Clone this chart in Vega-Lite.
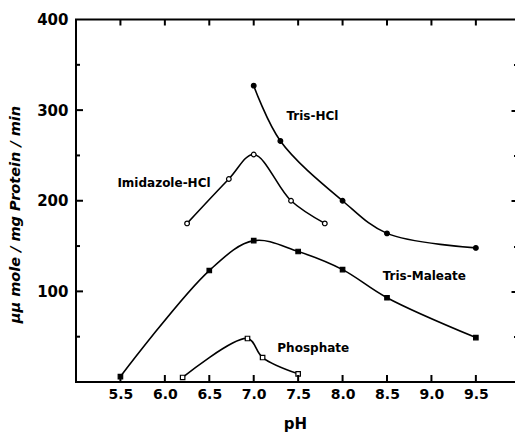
{
  "$schema": "https://vega.github.io/schema/vega-lite/v6.json",
  "width": 441,
  "height": 362.5,
  "autosize": "none",
  "padding": {"left": 76, "top": 19.5, "right": 0, "bottom": 50},
  "background": "white",
  "config": {
    "view": {"stroke": "black", "strokeWidth": 2},
    "axis": {
      "domain": false, "labelColor": "black", "titleColor": "black",
      "grid": false, "labelFont": "DejaVu Sans", "titleFont": "DejaVu Sans", "labelFontWeight": "bold",
      "titleFontWeight": "bold"
    }
  },
  "data": {
    "values": [
      {"series": "Tris-HCl", "pH": 7.0, "value": 327},
      {"series": "Tris-HCl", "pH": 7.3, "value": 266},
      {"series": "Tris-HCl", "pH": 8.0, "value": 200},
      {"series": "Tris-HCl", "pH": 8.5, "value": 164},
      {"series": "Tris-HCl", "pH": 9.5, "value": 148},
      {"series": "Imidazole-HCl", "pH": 6.25, "value": 175},
      {"series": "Imidazole-HCl", "pH": 6.72, "value": 224},
      {"series": "Imidazole-HCl", "pH": 7.0, "value": 251},
      {"series": "Imidazole-HCl", "pH": 7.42, "value": 200},
      {"series": "Imidazole-HCl", "pH": 7.8, "value": 175},
      {"series": "Tris-Maleate", "pH": 5.5, "value": 6},
      {"series": "Tris-Maleate", "pH": 6.5, "value": 123},
      {"series": "Tris-Maleate", "pH": 7.0, "value": 156},
      {"series": "Tris-Maleate", "pH": 7.5, "value": 144},
      {"series": "Tris-Maleate", "pH": 8.0, "value": 124},
      {"series": "Tris-Maleate", "pH": 8.5, "value": 93},
      {"series": "Tris-Maleate", "pH": 9.5, "value": 49},
      {"series": "Phosphate", "pH": 6.2, "value": 5},
      {"series": "Phosphate", "pH": 6.93, "value": 48},
      {"series": "Phosphate", "pH": 7.1, "value": 27},
      {"series": "Phosphate", "pH": 7.5, "value": 9}
    ]
  },
  "resolve": {"axis": {"x": "independent", "y": "independent"}},
  "layer": [
    {
      "mark": {"type": "line", "interpolate": "catmull-rom", "color": "black", "strokeWidth": 1.6},
      "encoding": {
        "x": {
          "field": "pH", "type": "quantitative",
          "scale": {"domain": [5, 9.963], "nice": false, "zero": false},
          "axis": {
            "orient": "bottom", "values": [5.5, 6, 6.5, 7, 7.5, 8, 8.5, 9, 9.5], "format": ".1f",
            "ticks": false, "labelFontSize": 14, "labelPadding": 5,
            "title": "pH", "titleFontSize": 15, "titleX": 219, "titleY": 46, "titleBaseline": "alphabetic"
          }
        },
        "y": {
          "field": "value", "type": "quantitative",
          "scale": {"domain": [0, 400], "nice": false},
          "axis": {
            "orient": "left", "values": [100, 200, 300, 400], "ticks": false,
            "labelFontSize": 15, "labelPadding": 8,
            "title": "μμ mole  / mg Protein / min", "titleFontSize": 14.5, "titleFontStyle": "italic",
            "titleX": -60.5, "titleY": 194.5, "titleBaseline": "middle", "titleAngle": -90
          }
        },
        "detail": {"field": "series"}
      }
    },
    {
      "transform": [{"filter": "datum.series === 'Tris-HCl' || datum.series === 'Imidazole-HCl'"}],
      "mark": {"type": "point", "shape": "circle", "size": 22, "stroke": "black", "strokeWidth": 1.2, "opacity": 1, "filled": false},
      "encoding": {
        "x": {"field": "pH", "type": "quantitative", "axis": null},
        "y": {
          "field": "value", "type": "quantitative",
          "axis": {"orient": "right", "values": [100, 200, 300], "offset": -6, "tickSize": 6, "tickColor": "black", "tickWidth": 2, "labels": false, "title": null}
        },
        "fill": {
          "field": "series", "type": "nominal",
          "scale": {"domain": ["Tris-HCl", "Imidazole-HCl", "Tris-Maleate", "Phosphate"], "range": ["black", "white", "black", "white"]},
          "legend": null
        }
      }
    },
    {
      "transform": [{"filter": "datum.series === 'Tris-Maleate' || datum.series === 'Phosphate'"}],
      "mark": {"type": "point", "shape": "square", "size": 20, "stroke": "black", "strokeWidth": 1.2, "opacity": 1, "filled": false},
      "encoding": {
        "x": {"field": "pH", "type": "quantitative", "axis": null},
        "y": {
          "field": "value", "type": "quantitative",
          "axis": {"orient": "right", "values": [50, 150, 250, 350], "offset": -3.5, "tickSize": 3.5, "tickColor": "black", "tickWidth": 2, "labels": false, "title": null}
        },
        "fill": {
          "field": "series", "type": "nominal",
          "scale": {"domain": ["Tris-HCl", "Imidazole-HCl", "Tris-Maleate", "Phosphate"], "range": ["black", "white", "black", "white"]},
          "legend": null
        }
      }
    },
    {
      "data": {
        "values": [
          {"label": "Tris-HCl", "pH": 7.66, "value": 293},
          {"label": "Imidazole-HCl", "pH": 5.99, "value": 220},
          {"label": "Tris-Maleate", "pH": 8.92, "value": 117},
          {"label": "Phosphate", "pH": 7.67, "value": 37}
        ]
      },
      "mark": {"type": "text", "font": "DejaVu Sans", "fontWeight": "bold", "fontSize": 12, "color": "black", "align": "center", "baseline": "middle"},
      "encoding": {
        "x": {"field": "pH", "type": "quantitative", "axis": null},
        "y": {"field": "value", "type": "quantitative", "axis": null},
        "text": {"field": "label"}
      }
    },
    {
      "data": {"values": [{"pH": 5.5}, {"pH": 6.0}, {"pH": 6.5}, {"pH": 7.0}, {"pH": 7.5}, {"pH": 8.0}, {"pH": 8.5}, {"pH": 9.0}, {"pH": 9.5}]},
      "mark": {"type": "tick", "orient": "vertical", "color": "black", "size": 7, "thickness": 2, "yOffset": -3.5, "opacity": 1},
      "encoding": {
        "x": {"field": "pH", "type": "quantitative", "axis": null},
        "y": {"datum": 0, "type": "quantitative", "axis": null}
      }
    },
    {
      "data": {"values": [{"pH": 5.5}, {"pH": 6.0}, {"pH": 6.5}, {"pH": 7.0}, {"pH": 7.5}, {"pH": 8.0}, {"pH": 8.5}, {"pH": 9.0}, {"pH": 9.5}]},
      "mark": {"type": "tick", "orient": "vertical", "color": "black", "size": 6, "thickness": 2, "yOffset": 3, "opacity": 1},
      "encoding": {
        "x": {"field": "pH", "type": "quantitative", "axis": null},
        "y": {"datum": 400, "type": "quantitative", "axis": null}
      }
    },
    {
      "data": {"values": [{"value": 100}, {"value": 200}, {"value": 300}]},
      "mark": {"type": "tick", "orient": "horizontal", "color": "black", "size": 7, "thickness": 2, "xOffset": 3.5, "opacity": 1},
      "encoding": {
        "x": {"datum": 5, "type": "quantitative", "axis": null},
        "y": {"field": "value", "type": "quantitative", "axis": null}
      }
    },
    {
      "data": {"values": [{"value": 50}, {"value": 150}, {"value": 250}, {"value": 350}]},
      "mark": {"type": "tick", "orient": "horizontal", "color": "black", "size": 4, "thickness": 2, "xOffset": 2, "opacity": 1},
      "encoding": {
        "x": {"datum": 5, "type": "quantitative", "axis": null},
        "y": {"field": "value", "type": "quantitative", "axis": null}
      }
    }
  ]
}
